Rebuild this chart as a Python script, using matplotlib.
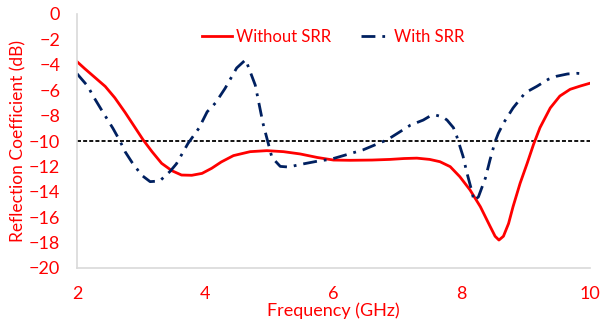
import numpy as np
import matplotlib
matplotlib.use("Agg")
import matplotlib.pyplot as plt

plt.rcParams['font.family'] = ['Lato', 'DejaVu Sans']

# Without SRR (red, solid)
freq_wo = [2.0, 2.12, 2.28, 2.44, 2.59, 2.75, 2.9, 3.03, 3.17, 3.32, 3.48,
           3.63, 3.79, 3.95, 4.1, 4.25, 4.44, 4.7, 4.96, 5.22, 5.48, 5.75,
           6.0, 6.26, 6.6, 6.88, 7.1, 7.3, 7.5, 7.66, 7.82, 7.97, 8.13, 8.29,
           8.44, 8.52, 8.58, 8.65, 8.73, 8.8, 8.91, 9.02, 9.12, 9.22, 9.38,
           9.53, 9.69, 9.85, 10.0]
s11_wo = [-3.75, -4.3, -5.0, -5.7, -6.6, -7.75, -8.9, -9.9, -10.84,
          -11.76, -12.34, -12.68, -12.7, -12.55, -12.15, -11.65, -11.15,
          -10.84, -10.76, -10.84, -11.02, -11.3, -11.5, -11.52, -11.5, -11.45,
          -11.38, -11.35, -11.45, -11.63, -12.02, -12.81, -13.86, -15.17,
          -16.7, -17.5, -17.8, -17.5, -16.5, -15.17, -13.33, -11.76, -10.26,
          -8.95, -7.4, -6.46, -5.93, -5.67, -5.45]

# With SRR (navy, dash-dot)
freq_w = [2.0, 2.17, 2.25, 2.4, 2.56, 2.67, 2.75, 2.86, 3.01, 3.14, 3.29,
          3.45, 3.55, 3.73, 3.9, 4.03, 4.16, 4.31, 4.49, 4.63, 4.78, 4.9,
          5.04, 5.17, 5.3, 5.48, 5.79, 5.95, 6.46, 6.84, 7.2, 7.4, 7.5, 7.6,
          7.7, 7.77, 7.87, 7.92, 8.02, 8.08, 8.16, 8.19, 8.26, 8.37, 8.44,
          8.52, 8.57, 8.65, 8.8, 8.99, 9.17, 9.35, 9.48, 9.65, 9.8, 9.93]
s11_w = [-4.7, -5.7, -6.45, -7.7, -9.0, -10.0, -10.84, -11.7, -12.7, -13.2,
         -13.15, -12.4, -11.8, -10.2, -9.0, -7.7, -7.0, -5.85, -4.25, -3.6,
         -5.6, -8.6, -11.3, -12.0, -12.05, -11.85, -11.55, -11.45, -10.7,
         -9.9, -8.75, -8.35, -8.05, -7.97, -8.1, -8.35, -8.95, -9.6, -11.2,
         -12.5, -14.0, -14.7, -14.4, -12.9, -11.5, -10.05, -9.4, -8.6, -7.4,
         -6.2, -5.7, -5.14, -4.9, -4.72, -4.67, -4.72]

ref_x = [2, 10]
ref_y = [-10, -10]

red = '#FF0000'
navy = '#002060'

fig = plt.figure(figsize=(6.02, 3.25), dpi=100)
ax = fig.add_axes([77/602, 1-268/325, (590-77)/602, (268-14)/325])

ax.plot(ref_x, ref_y, color='black', lw=1.3, linestyle=(0, (2.2, 1.2)))
ax.plot(freq_wo, s11_wo, color=red, lw=2, label='Without SRR',
        solid_joinstyle='round')
ax.plot(freq_w, s11_w, color=navy, lw=2, linestyle=(0, (5, 2.5, 1, 2.5)),
        label='With SRR')

ax.set_xlim(2, 10)
ax.set_ylim(-20, 0)
ax.set_xticks([2, 4, 6, 8, 10])
ax.set_yticks(np.arange(-20, 1, 2))
ax.tick_params(length=0, labelcolor=red, labelsize=13)
ax.tick_params(axis='x', pad=13)
ax.tick_params(axis='y', pad=12)

for s in ['top', 'right']:
    ax.spines[s].set_visible(False)
ax.spines['left'].set_color('#d9d9d9')
ax.spines['bottom'].set_color('#d9d9d9')
ax.spines['left'].set_linewidth(1.2)
ax.spines['bottom'].set_linewidth(1.2)

ax.set_xlabel('Frequency (GHz)', color=red, fontsize=13, labelpad=0)
ax.set_ylabel('Reflection Coefficient (dB)', color=red, fontsize=12.5,
              labelpad=2)

leg = ax.legend(loc='upper center', bbox_to_anchor=(0.5, 1.0), ncol=2,
                frameon=False, fontsize=12, handlelength=1.8,
                handletextpad=0.2, columnspacing=1.8)
for t in leg.get_texts():
    t.set_color(red)

fig.savefig('out.png', dpi=100)
